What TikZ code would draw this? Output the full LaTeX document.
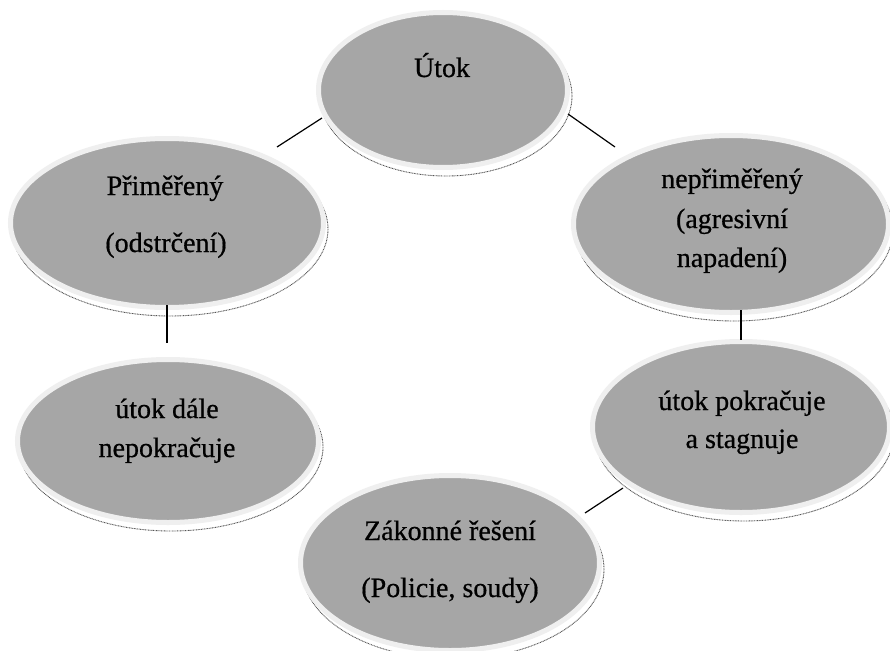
\documentclass[tikz,border=0pt]{standalone}
\usepackage{fontspec}
\setmainfont{Liberation Serif}
\newfontfamily\lblfont[FakeBold=0.6]{Liberation Serif}
\usetikzlibrary{shapes.geometric}
\definecolor{fillgray}{HTML}{A6A6A6}
\definecolor{ringgray}{HTML}{EFEFEF}
\definecolor{shadowline}{HTML}{555555}
\newcommand\mybubble[5]{%
  \draw[shadowstyle] ({#2+3},{#3+6}) ellipse [x radius={#4+4}, y radius={#5+5}];
  \node[bubble, minimum width={2*#4+5}, minimum height={2*#5+5}] (#1) at (#2,#3) {};
}
\begin{document}
\begin{tikzpicture}[x=1pt,y=-1pt,
  bubble/.style={ellipse, fill=fillgray, draw=ringgray, line width=5pt, inner sep=0pt, outer sep=0pt},
  shadowstyle/.style={fill=white, draw=shadowline, line width=0.9pt, dash pattern=on 0.9pt off 0.7pt},
  lbl/.style={anchor=base, inner sep=0pt, font=\lblfont\fontsize{28}{34}\selectfont, text=black},
  conn/.style={draw=black, line width=1.2pt}]
\useasboundingbox (0,0) rectangle (890,650);
\fill[white] (0,0) rectangle (890,650);

\mybubble{utok}{443}{90}{122}{75}
\mybubble{prim}{167}{223}{154}{82}
\mybubble{neprim}{731}{224}{155}{86}
\mybubble{dale}{168}{441}{148}{79}
\mybubble{pokr}{741}{427}{146}{83}
\mybubble{zak}{450}{563}{147}{85}

\node[lbl] (t1) at (442,77) {Útok};
\node[lbl] (t2a) at (165,195) {Přiměřený};
\node[lbl] (t2b) at (166,252) {(odstrčení)};
\node[lbl] (t3a) at (732,188) {nepřiměřený};
\node[lbl] (t3b) at (732,228) {(agresivní};
\node[lbl] (t3c) at (732,267) {napadení)};
\node[lbl] (t4a) at (167,418) {útok dále};
\node[lbl] (t4b) at (167,457) {nepokračuje};
\node[lbl] (t5a) at (742,410) {útok pokračuje};
\node[lbl] (t5b) at (742,448) {a stagnuje};
\node[lbl] (t6a) at (450,540) {Zákonné řešení};
\node[lbl] (t6b) at (450,597) {(Policie, soudy)};

\coordinate (a1) at (322,118);
\coordinate (a2) at (277,147);
\coordinate (b1) at (568,114);
\coordinate (b2) at (615,147);
\coordinate (c1) at (167,305);
\coordinate (c2) at (167,343);
\coordinate (d1) at (741,310);
\coordinate (d2) at (741,340);
\coordinate (e1) at (623,488);
\coordinate (e2) at (585,513);

\draw[conn] (a1) -- (a2);
\draw[conn] (b2) -- (b1);
\draw[conn] (c1) -- (c2);
\draw[conn] (d1) -- (d2);
\draw[conn] (e1) -- (e2);
\end{tikzpicture}
\end{document}
